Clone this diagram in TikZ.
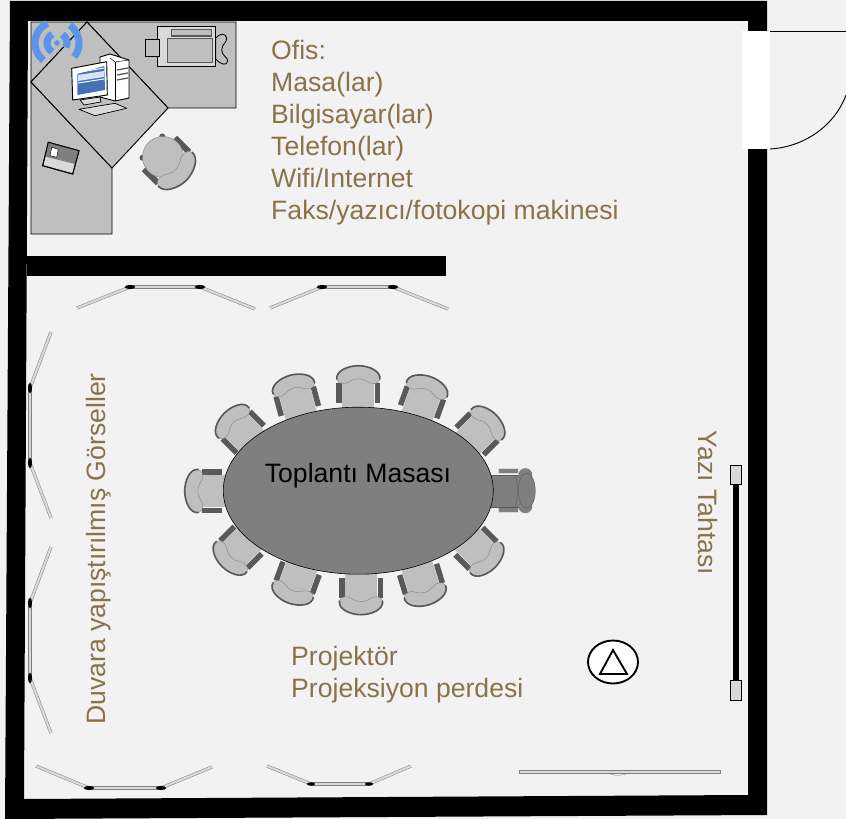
\documentclass[tikz,border=0pt]{standalone}
\usepackage{fontspec}
\setmainfont{Liberation Sans}
\usetikzlibrary{shapes.geometric}
\definecolor{bgGray}{HTML}{F2F2F2}
\definecolor{deskGray}{HTML}{BFBFBF}
\definecolor{lightGray}{HTML}{D9D9D9}
\definecolor{midGray}{HTML}{7F7F7F}
\definecolor{armGray}{HTML}{595959}
\definecolor{labelBrown}{HTML}{8B7349}
\definecolor{wifiBlue}{HTML}{5B95EA}
\definecolor{screenBlue}{HTML}{4472B4}
\tikzset{
    lbl/.style={inner sep=0pt, text=labelBrown, font=\fontsize{22.7}{27.3}\selectfont, align=left},
    desk/.style={draw=black, fill=deskGray, line width=0.8pt},
    panel/.style={draw=midGray, double=lightGray, line width=0.4pt, double distance=1.9pt},
    joint/.style={ellipse, fill=black, inner sep=0pt},
    wifi/.style={draw=wifiBlue, line width=6pt},
    meetchair/.pic={
        \fill[armGray] (-22,-10) rectangle (-16.5,10);
        \fill[armGray] (16.5,-10) rectangle (22,10);
        \fill[deskGray] (-16,-14) rectangle (16,18);
        \fill[deskGray] (-21.5,-13) .. controls (-23,-22) and (-10,-27) .. (0,-27)
            .. controls (10,-27) and (23,-22) .. (21.5,-13)
            .. controls (20,-8) and (13,-8) .. (9,-11)
            .. controls (4,-15) and (-4,-15) .. (-9,-11)
            .. controls (-13,-8) and (-20,-8) .. cycle;
        \draw[draw=midGray, line width=0.3pt] (21.5,-13) .. controls (20,-8) and (13,-8) .. (9,-11)
            .. controls (4,-15) and (-4,-15) .. (-9,-11)
            .. controls (-13,-8) and (-20,-8) .. (-21.5,-13);
        \draw[draw=armGray, line width=1.4pt] (-21.5,-13) .. controls (-23,-22) and (-10,-27) .. (0,-27)
            .. controls (10,-27) and (23,-22) .. (21.5,-13);
    },
    headchair/.pic={
        \draw[fill=midGray, draw=lightGray, line width=0.4pt] (-22,-10) rectangle (-17,10);
        \draw[fill=midGray, draw=lightGray, line width=0.4pt] (17,-10) rectangle (22,10);
        \draw[fill=midGray, draw=armGray, line width=0.3pt] (-16,-12) rectangle (16,18);
        \fill[midGray] (-15.5,-17) circle (7);
        \fill[midGray] (15.5,-17) circle (7);
        \draw[fill=midGray, draw=armGray, line width=0.3pt] (0,-18.5) ellipse (17.5 and 8.5);
        \draw[draw=armGray, line width=0.3pt] (-15,-7) .. controls (-6,-10) and (6,-10) .. (15,-7);
    },
    officechair/.pic={
        \fill[armGray] (-14,15) circle (3);
        \fill[armGray] (15,14) circle (3);
        \fill[armGray] (-25,-15) rectangle (-19,5);
        \fill[armGray] (19,-15) rectangle (25,5);
        \draw[fill=deskGray, draw=midGray, line width=0.3pt] (0,0) circle (20.5);
        \fill[deskGray] (-24,-17) .. controls (-25,-27) and (-10,-33) .. (0,-33)
            .. controls (10,-33) and (25,-27) .. (24,-17)
            .. controls (22,-11) and (14,-11) .. (9,-15)
            .. controls (4,-19) and (-4,-19) .. (-9,-15)
            .. controls (-14,-11) and (-22,-11) .. cycle;
        \draw[draw=midGray, line width=0.3pt] (24,-17) .. controls (22,-11) and (14,-11) .. (9,-15)
            .. controls (4,-19) and (-4,-19) .. (-9,-15)
            .. controls (-14,-11) and (-22,-11) .. (-24,-17);
        \draw[draw=armGray, line width=1.4pt] (-24,-17) .. controls (-25,-27) and (-10,-33) .. (0,-33)
            .. controls (10,-33) and (25,-27) .. (24,-17);
    },
}
% three hinged wall panels
\newcommand{\wallpanels}[6]{
    \draw[panel] (#1) -- (#2);
    \draw[panel] (#2) -- (#3);
    \draw[panel] (#3) -- (#4);
    \node[joint, minimum width=#5, minimum height=#6] at (#2) {};
    \node[joint, minimum width=#5, minimum height=#6] at (#3) {};
}
\begin{document}
\begin{tikzpicture}[x=0.03cm, y=-0.03cm]
        \useasboundingbox (0,0) rectangle (846,819);
        \fill[bgGray] (0,0) rectangle (846,819);

        % Walls
        \fill[black, even odd rule] (10,1) -- (767,1) -- (767,815) -- (5,819) -- cycle
            (28,21) -- (748,21) -- (748,795) -- (24,799) -- cycle;
        \fill[black] (27,256) rectangle (446,276);

        % Door
        \fill[white] (742,31) rectangle (770,149);
        \draw[line width=0.8pt] (770,31) -- (846,31);
        \draw[line width=0.8pt] (770,149) .. controls (805,147) and (835,125) .. (846,95);

        % Office desks
        \draw[desk] (87,22) -- (236,22) -- (236,108) -- (168,108) -- cycle;
        \draw[desk] (31,22) -- (87,22) -- (31,82) -- cycle;
        \draw[desk] (31,82) -- (31,234) -- (112,234) -- (112,168) -- cycle;
        \draw[desk] (87,22) -- (168,108) -- (112,168) -- (31,82) -- cycle;

        % Wifi
        \draw[wifi] (57,43) ++(128:22) arc (128:244:22);
        \draw[wifi] (57,43) ++(-54:22) arc (-54:39:22);
        \draw[wifi] (57,43) ++(118:10) arc (118:242:10);
        \draw[wifi] (57,43) ++(-58:10) arc (-58:27:10);
        \fill[wifiBlue] (57,43) circle (2.8);

        % Computer
        \draw[fill=white, line width=0.8pt, line join=round] (100,57) -- (110,54) -- (129,60) -- (129,98) -- (115,101) -- (100,97) -- cycle;
        \draw[line width=0.4pt] (110,58) -- (115,62) -- (129,60);
        \draw[line width=0.4pt] (115,62) -- (115,101);
        \foreach \vy in {70,75,80}
            \draw[armGray, line width=1.1pt] (117,\vy) -- (128,\vy-2);
        \draw[fill=lightGray, line width=0.6pt] (80,100) -- (100,97) -- (101,102) -- (84,105) -- cycle;
        \draw[fill=white, line width=0.8pt, line join=round] (71.7,68.3) -- (106.7,61.7) -- (107.3,95) -- (72.7,100) -- cycle;
        \fill[screenBlue] (77.3,74) -- (104.3,66) -- (105,90) -- (77.3,95) -- cycle;
        \draw[white, line width=0.8pt] (78,72.5) -- (104,68);
        \fill[white!80!screenBlue] (78,75) -- (104,71) -- (104,77) -- (78,81) -- cycle;
        \draw[white, line width=0.8pt] (78,83) -- (104,79);
        \draw[fill=lightGray, line width=0.6pt, line join=round] (79,109.3) -- (115,103.3) -- (126.7,108.3) -- (95,115.7) -- cycle;

        % Fax
        \draw[fill=lightGray, line width=0.8pt] (48.3,142.3) -- (79,150.7) -- (72.7,174) -- (42.7,165.7) -- cycle;
        \fill[midGray] (48.3,142.3) -- (79,150.7) -- (75,164) -- (45,156.5) -- cycle;
        \draw[line width=0.8pt] (48.3,142.3) -- (79,150.7) -- (72.7,174) -- (42.7,165.7) -- cycle;
        \draw[fill=white, line width=0.4pt] (51.7,147.3) -- (58.3,149.3) -- (56.7,157.3) -- (50,155.7) -- cycle;

        % Phone on the desk
        \draw[fill=deskGray, line width=0.7pt] (215.7,38) .. controls (220,33) and (226,33) .. (226.7,38)
            .. controls (227,43) and (221.7,44) .. (221.7,50)
            .. controls (221.7,56) and (228,57) .. (227.7,61)
            .. controls (227,66) and (221,65) .. (215.7,59) -- cycle;
        \draw[fill=lightGray, line width=0.7pt] (157.3,26.7) rectangle (215.7,66);
        \draw[fill=deskGray, line width=0.7pt] (145.7,39.3) rectangle (159.3,56.7);
        \draw[fill=deskGray, draw=armGray, line width=1pt] (171.7,29.3) rectangle (211.7,36);
        \draw[fill=deskGray, draw=armGray, line width=1pt] (167.7,38.7) rectangle (212.3,62.3);

        % Office chair
        \pic[rotate=225] at (163,157) {officechair};

        % Wall panels
        \wallpanels{77,308}{130,287}{200,287}{255,309}{9}{3.5}
        \wallpanels{270,308}{322,287}{393,287}{448,309}{9}{3.5}
        \wallpanels{51,332}{30,388}{30,463}{51,518}{3.5}{9}
        \wallpanels{51,547}{30,603}{30,678}{51,733}{3.5}{9}
        \wallpanels{36,766}{89,788}{161,788}{212,767}{9}{3.5}
        \wallpanels{267,766}{311,784}{369,784}{411,766}{7}{3}

        % Chairs around the table
        \foreach \cx/\cy/\ang in {358.3/392.7/0, 297.3/401.3/15, 243.3/432.3/45, 211.7/491/90,
                241/547.3/135, 297.7/577.7/160, 361/587.7/180, 421/579/197,
                476/548.3/225, 477/434/315, 422/402.3/340}
            \pic[rotate=\ang] at (\cx,\cy) {meetchair};
        \pic[rotate=270] at (508.3,490.7) {headchair};

        % Table
        \node[ellipse, draw=black, fill=midGray, line width=0.5pt, inner sep=0pt,
            minimum width=270*0.03cm, minimum height=167*0.03cm] (table) at (358.3,490.7) {};
        \node[inner sep=0pt, font=\fontsize{22.7}{27.3}\selectfont] (tableText) at (358,476) {Toplantı Masası};

        % Whiteboard
        \fill[black] (733,483) rectangle (739,680);
        \draw[fill=lightGray, line width=0.7pt] (730,465) rectangle (741,484);
        \draw[fill=lightGray, line width=0.7pt] (730,680) rectangle (741,700);

        % Projector
        \node[ellipse, draw=black, fill=white, line width=1.6pt, inner sep=0pt,
            minimum width=50*0.03cm, minimum height=43*0.03cm] (projector) at (613,662) {};
        \draw[line width=1.6pt, line join=miter] (613,650) -- (600,674) -- (627,674) -- cycle;

        % Screen
        \draw[fill=lightGray, draw=midGray, line width=0.6pt] (519,770) rectangle (720,773);
        \draw[midGray, line width=0.3pt] (608,773) .. controls (613,776) and (623,776) .. (628,773);

        % Labels
        \node[lbl, anchor=west] (officeText) at (271,133) {Ofis:\\Masa(lar)\\Bilgisayar(lar)\\Telefon(lar)\\Wifi/Internet\\Faks/yazıcı/fotokopi makinesi};
        \node[lbl, anchor=west] (projText) at (291,675) {Projektör\\Projeksiyon perdesi};
        \node[lbl, rotate=90] (wallText) at (99,549) {Duvara yapıştırılmış Görseller};
        \node[lbl, rotate=-90] (boardText) at (708,503) {Yazı Tahtası};
    \end{tikzpicture}
\end{document}
